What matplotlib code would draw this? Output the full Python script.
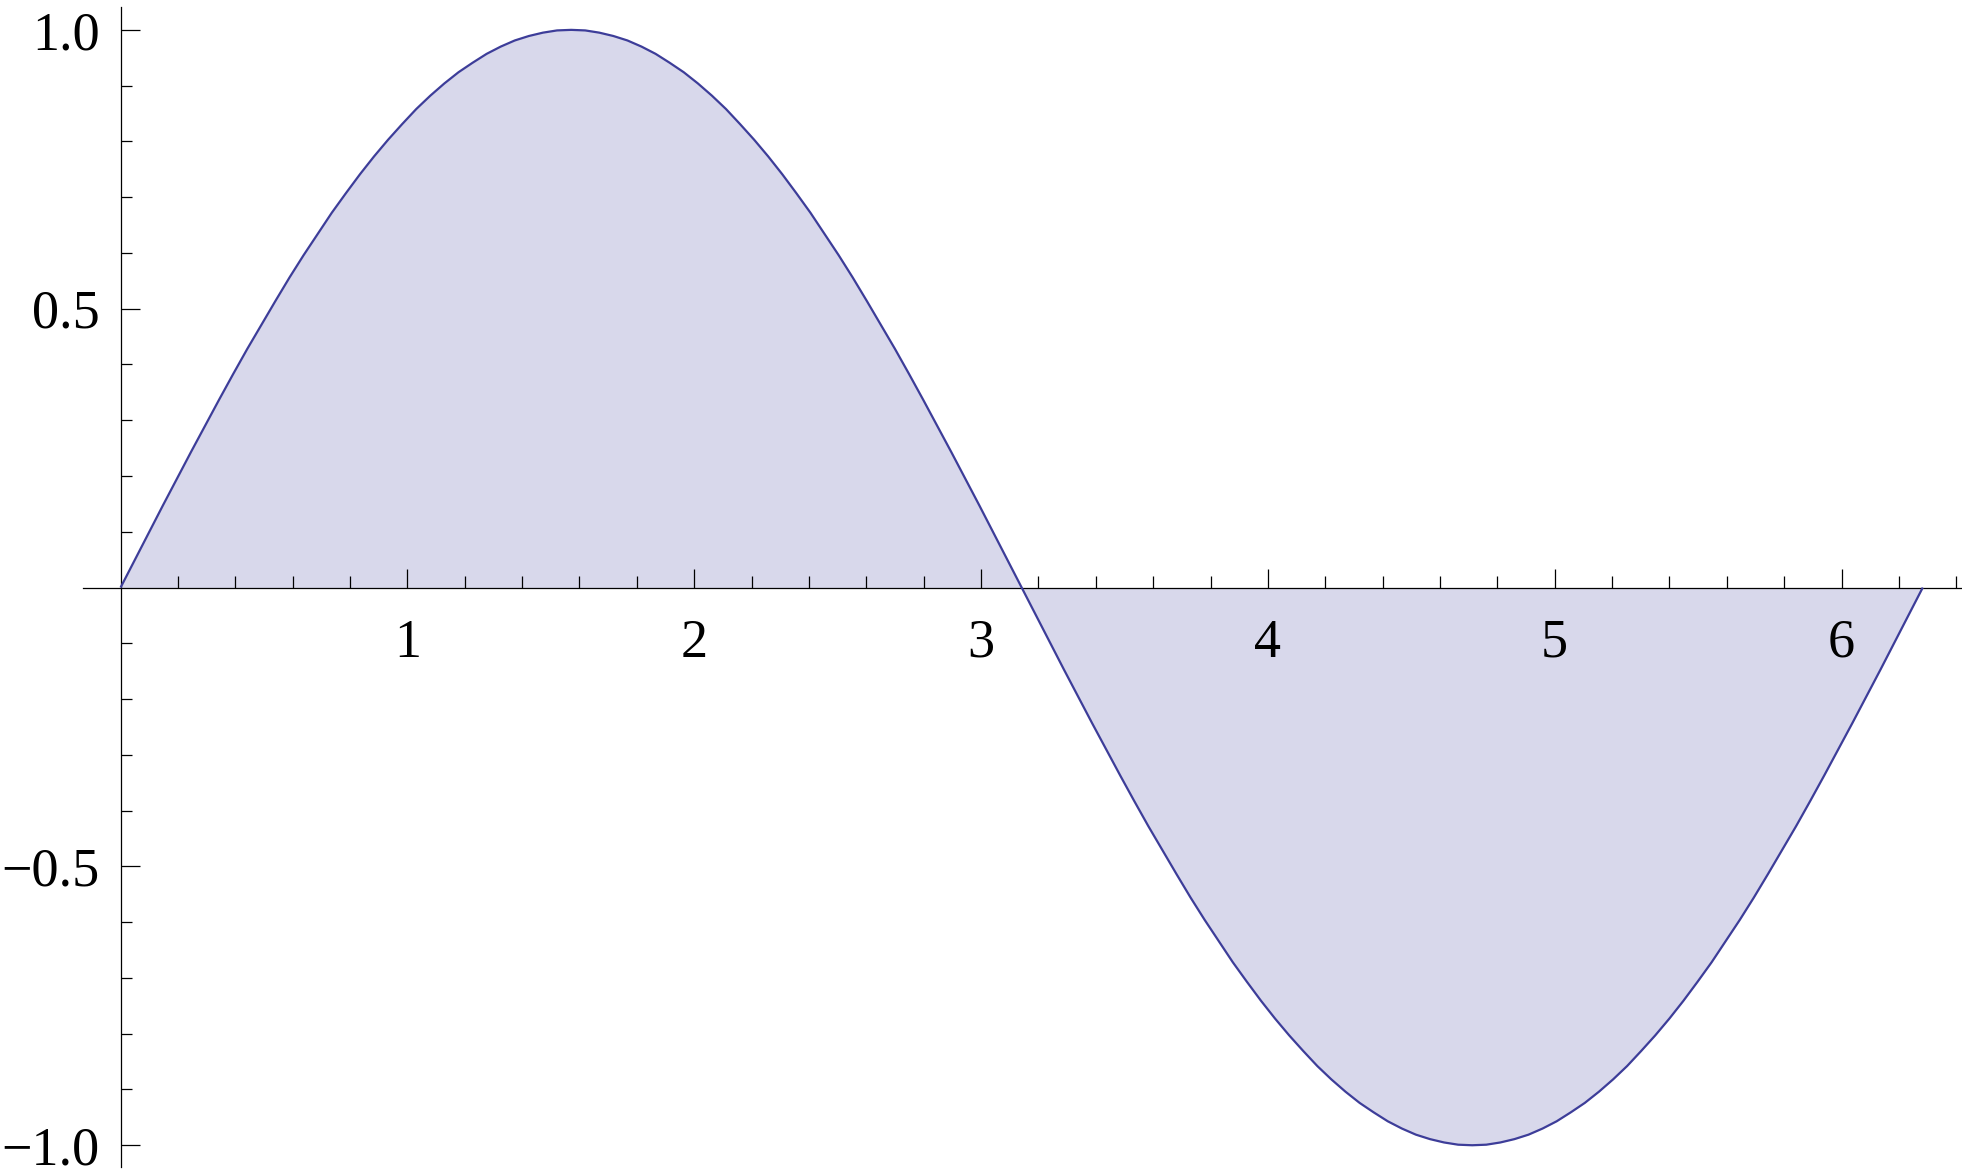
import matplotlib
matplotlib.use("Agg")
import matplotlib.pyplot as plt
from matplotlib.ticker import FixedLocator

# values
x_vals = [0.0000, 0.0491, 0.0982, 0.1473, 0.1963, 0.2454, 0.2945, 0.3436, 0.3927, 0.4418,
          0.4909, 0.5400, 0.5890, 0.6381, 0.6872, 0.7363, 0.7854, 0.8345, 0.8836, 0.9327,
          0.9817, 1.0308, 1.0799, 1.1290, 1.1781, 1.2272, 1.2763, 1.3254, 1.3744, 1.4235,
          1.4726, 1.5217, 1.5708, 1.6199, 1.6690, 1.7181, 1.7671, 1.8162, 1.8653, 1.9144,
          1.9635, 2.0126, 2.0617, 2.1108, 2.1598, 2.2089, 2.2580, 2.3071, 2.3562, 2.4053,
          2.4544, 2.5035, 2.5525, 2.6016, 2.6507, 2.6998, 2.7489, 2.7980, 2.8471, 2.8962,
          2.9452, 2.9943, 3.0434, 3.0925, 3.1416, 3.1907, 3.2398, 3.2889, 3.3379, 3.3870,
          3.4361, 3.4852, 3.5343, 3.5834, 3.6325, 3.6816, 3.7306, 3.7797, 3.8288, 3.8779,
          3.9270, 3.9761, 4.0252, 4.0743, 4.1233, 4.1724, 4.2215, 4.2706, 4.3197, 4.3688,
          4.4179, 4.4670, 4.5160, 4.5651, 4.6142, 4.6633, 4.7124, 4.7615, 4.8106, 4.8597,
          4.9087, 4.9578, 5.0069, 5.0560, 5.1051, 5.1542, 5.2033, 5.2524, 5.3014, 5.3505,
          5.3996, 5.4487, 5.4978, 5.5469, 5.5960, 5.6451, 5.6941, 5.7432, 5.7923, 5.8414,
          5.8905, 5.9396, 5.9887, 6.0378, 6.0868, 6.1359, 6.1850, 6.2341, 6.2832]
y_vals = [0.000, 0.049, 0.098, 0.147, 0.195, 0.243, 0.290, 0.337, 0.383, 0.428,
          0.471, 0.514, 0.556, 0.596, 0.634, 0.672, 0.707, 0.741, 0.773, 0.803,
          0.831, 0.858, 0.882, 0.904, 0.924, 0.941, 0.957, 0.970, 0.981, 0.989,
          0.995, 0.999, 1.000, 0.999, 0.995, 0.989, 0.981, 0.970, 0.957, 0.941,
          0.924, 0.904, 0.882, 0.858, 0.831, 0.803, 0.773, 0.741, 0.707, 0.672,
          0.634, 0.596, 0.556, 0.514, 0.471, 0.428, 0.383, 0.337, 0.290, 0.243,
          0.195, 0.147, 0.098, 0.049, 0.000, -0.049, -0.098, -0.147, -0.195, -0.243,
          -0.290, -0.337, -0.383, -0.428, -0.471, -0.514, -0.556, -0.596, -0.634, -0.672,
          -0.707, -0.741, -0.773, -0.803, -0.831, -0.858, -0.882, -0.904, -0.924, -0.941,
          -0.957, -0.970, -0.981, -0.989, -0.995, -0.999, -1.000, -0.999, -0.995, -0.989,
          -0.981, -0.970, -0.957, -0.941, -0.924, -0.904, -0.882, -0.858, -0.831, -0.803,
          -0.773, -0.741, -0.707, -0.672, -0.634, -0.596, -0.556, -0.514, -0.471, -0.428,
          -0.383, -0.337, -0.290, -0.243, -0.195, -0.147, -0.098, -0.049, 0.000]

x_major = [1, 2, 3, 4, 5, 6]
x_major_labels = ["1", "2", "3", "4", "5", "6"]
x_minor = [0.2, 0.4, 0.6, 0.8, 1.2, 1.4, 1.6, 1.8, 2.2, 2.4, 2.6, 2.8,
           3.2, 3.4, 3.6, 3.8, 4.2, 4.4, 4.6, 4.8, 5.2, 5.4, 5.6, 5.8, 6.2, 6.4]
y_major = [-1.0, -0.5, 0.5, 1.0]
y_major_labels = ["\u22121.0", "\u22120.5", "0.5", "1.0"]
y_minor = [-0.9, -0.8, -0.7, -0.6, -0.4, -0.3, -0.2, -0.1,
           0.1, 0.2, 0.3, 0.4, 0.6, 0.7, 0.8, 0.9]

line_color = "#3d3d99"
fill_color = "#d8d8eb"

W, H = 1962, 1175
fig = plt.figure(figsize=(W / 100, H / 100), dpi=100)
left, right = 83, 1962
top, bottom = 7, 1167
ax = fig.add_axes([left / W, 1 - bottom / H, (right - left) / W, (bottom - top) / H])
ax.set_xlim(-0.131, 6.42)
ax.set_ylim(-1.039, 1.041)

ax.fill_between(x_vals, y_vals, 0, color=fill_color, linewidth=0, zorder=1)
ax.plot(x_vals, y_vals, color=line_color, lw=1.6, zorder=3,
        solid_capstyle="butt", solid_joinstyle="round")

for s in ["top", "right"]:
    ax.spines[s].set_visible(False)
ax.spines["left"].set_position(("data", 0))
ax.spines["bottom"].set_position(("data", 0))
for s in ["left", "bottom"]:
    ax.spines[s].set_linewidth(0.9)
    ax.spines[s].set_zorder(2)

ax.xaxis.set_major_locator(FixedLocator(x_major))
ax.xaxis.set_minor_locator(FixedLocator(x_minor))
ax.yaxis.set_major_locator(FixedLocator(y_major))
ax.yaxis.set_minor_locator(FixedLocator(y_minor))
ax.set_xticklabels(x_major_labels)
ax.set_yticklabels(y_major_labels)

font = "Liberation Serif"
ax.tick_params(axis="x", which="major", direction="in", length=14, width=0.9, pad=22,
               labelsize=39)
ax.tick_params(axis="x", which="minor", direction="in", length=8.5, width=0.9)
ax.tick_params(axis="y", which="major", direction="in", length=14, width=0.9, pad=15,
               labelsize=39)
ax.tick_params(axis="y", which="minor", direction="in", length=8, width=0.9)
for lab in ax.get_xticklabels() + ax.get_yticklabels():
    lab.set_fontfamily(font)

fig.savefig("out.png", dpi=100)
